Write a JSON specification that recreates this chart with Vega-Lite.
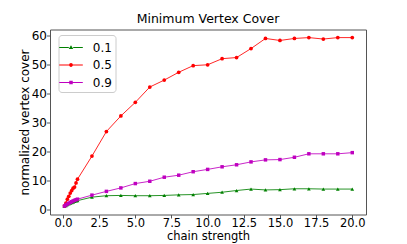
{
  "$schema": "https://vega.github.io/schema/vega-lite/v6.json",
  "autosize": "none",
  "width": 316,
  "height": 185,
  "padding": {"left": 50, "top": 29.5, "right": 41, "bottom": 29.5},
  "config": {
    "font": "DejaVu Sans",
    "view": {"stroke": "#555", "strokeWidth": 1},
    "axis": {"domain": false, "grid": false, "tickColor": "#555", "tickSize": 3.5, "labelFontSize": 12, "labelColor": "#000", "titleFontSize": 12, "titleFontWeight": "normal", "titleColor": "#000", "labelFont": "DejaVu Sans", "titleFont": "DejaVu Sans"},
    "title": {"fontSize": 12.5, "fontWeight": "normal", "font": "DejaVu Sans", "color": "#000"},
    "legend": {"title": null, "orient": "none", "legendX": 8.5, "legendY": 5.5, "symbolSize": 306, "labelFontSize": 12, "labelOffset": 12.8, "labelFont": "DejaVu Sans", "labelColor": "#000", "padding": 3.5, "rowPadding": 2.5, "strokeColor": "#ccc", "fillColor": "#ffffff", "cornerRadius": 3}
  },
  "title": {"text": "Minimum Vertex Cover", "offset": 4},
  "data": {"values": [
    {"s": "0.1", "x": 0.1, "y": 0.9}, {"s": "0.1", "x": 0.2, "y": 1.2}, {"s": "0.1", "x": 0.3, "y": 1.5}, {"s": "0.1", "x": 0.4, "y": 1.8}, {"s": "0.1", "x": 0.5, "y": 2.0}, {"s": "0.1", "x": 0.6, "y": 2.2}, {"s": "0.1", "x": 0.7, "y": 2.4}, {"s": "0.1", "x": 0.8, "y": 2.6}, {"s": "0.1", "x": 0.9, "y": 2.8}, {"s": "0.1", "x": 1.0, "y": 2.9},
    {"s": "0.1", "x": 2, "y": 4.1}, {"s": "0.1", "x": 3, "y": 4.6}, {"s": "0.1", "x": 4, "y": 4.7}, {"s": "0.1", "x": 5, "y": 4.6}, {"s": "0.1", "x": 6, "y": 4.6}, {"s": "0.1", "x": 7, "y": 4.7}, {"s": "0.1", "x": 8, "y": 4.9}, {"s": "0.1", "x": 9, "y": 5.0}, {"s": "0.1", "x": 10, "y": 5.4}, {"s": "0.1", "x": 11, "y": 5.8}, {"s": "0.1", "x": 12, "y": 6.4}, {"s": "0.1", "x": 13, "y": 6.9}, {"s": "0.1", "x": 14, "y": 6.6}, {"s": "0.1", "x": 15, "y": 6.7}, {"s": "0.1", "x": 16, "y": 7.0}, {"s": "0.1", "x": 17, "y": 7.0}, {"s": "0.1", "x": 18, "y": 6.9}, {"s": "0.1", "x": 19, "y": 6.9}, {"s": "0.1", "x": 20, "y": 6.9},
    {"s": "0.5", "x": 0.1, "y": 1.1}, {"s": "0.5", "x": 0.2, "y": 2.0}, {"s": "0.5", "x": 0.3, "y": 3.4}, {"s": "0.5", "x": 0.4, "y": 4.4}, {"s": "0.5", "x": 0.5, "y": 5.5}, {"s": "0.5", "x": 0.6, "y": 6.4}, {"s": "0.5", "x": 0.7, "y": 7.2}, {"s": "0.5", "x": 0.8, "y": 7.6}, {"s": "0.5", "x": 0.9, "y": 9.0}, {"s": "0.5", "x": 1.0, "y": 10.3},
    {"s": "0.5", "x": 2, "y": 18.3}, {"s": "0.5", "x": 3, "y": 26.8}, {"s": "0.5", "x": 4, "y": 32.2}, {"s": "0.5", "x": 5, "y": 36.9}, {"s": "0.5", "x": 6, "y": 42.2}, {"s": "0.5", "x": 7, "y": 44.6}, {"s": "0.5", "x": 8, "y": 47.3}, {"s": "0.5", "x": 9, "y": 49.6}, {"s": "0.5", "x": 10, "y": 49.9}, {"s": "0.5", "x": 11, "y": 52.0}, {"s": "0.5", "x": 12, "y": 52.4}, {"s": "0.5", "x": 13, "y": 55.5}, {"s": "0.5", "x": 14, "y": 59.0}, {"s": "0.5", "x": 15, "y": 58.3}, {"s": "0.5", "x": 16, "y": 59.0}, {"s": "0.5", "x": 17, "y": 59.3}, {"s": "0.5", "x": 18, "y": 58.8}, {"s": "0.5", "x": 19, "y": 59.3}, {"s": "0.5", "x": 20, "y": 59.3},
    {"s": "0.9", "x": 0.1, "y": 1.0}, {"s": "0.9", "x": 0.2, "y": 1.4}, {"s": "0.9", "x": 0.3, "y": 1.7}, {"s": "0.9", "x": 0.4, "y": 2.0}, {"s": "0.9", "x": 0.5, "y": 2.3}, {"s": "0.9", "x": 0.6, "y": 2.5}, {"s": "0.9", "x": 0.7, "y": 2.8}, {"s": "0.9", "x": 0.8, "y": 3.0}, {"s": "0.9", "x": 0.9, "y": 3.2}, {"s": "0.9", "x": 1.0, "y": 3.4},
    {"s": "0.9", "x": 2, "y": 4.8}, {"s": "0.9", "x": 3, "y": 6.1}, {"s": "0.9", "x": 4, "y": 7.3}, {"s": "0.9", "x": 5, "y": 8.8}, {"s": "0.9", "x": 6, "y": 9.6}, {"s": "0.9", "x": 7, "y": 11.0}, {"s": "0.9", "x": 8, "y": 11.7}, {"s": "0.9", "x": 9, "y": 12.9}, {"s": "0.9", "x": 10, "y": 13.7}, {"s": "0.9", "x": 11, "y": 14.6}, {"s": "0.9", "x": 12, "y": 15.3}, {"s": "0.9", "x": 13, "y": 16.3}, {"s": "0.9", "x": 14, "y": 17.0}, {"s": "0.9", "x": 15, "y": 17.1}, {"s": "0.9", "x": 16, "y": 17.9}, {"s": "0.9", "x": 17, "y": 19.1}, {"s": "0.9", "x": 18, "y": 19.1}, {"s": "0.9", "x": 19, "y": 19.1}, {"s": "0.9", "x": 20, "y": 19.5}
  ]},
  "encoding": {
    "x": {"field": "x", "type": "quantitative", "scale": {"domain": [-0.9, 20.95], "nice": false, "zero": false},
          "axis": {"values": [0, 2.5, 5, 7.5, 10, 12.5, 15, 17.5, 20], "format": ".1f", "title": "chain strength", "labelFontSize": 11.5, "titleFontSize": 11.5, "labelPadding": -0.5, "titlePadding": 1.5}},
    "y": {"field": "y", "type": "quantitative", "scale": {"domain": [-1.9, 62.1], "nice": false, "zero": false},
          "axis": {"values": [0, 10, 20, 30, 40, 50, 60], "title": "normalized vertex cover", "labelPadding": 0, "titlePadding": 0}},
    "color": {"field": "s", "type": "nominal",
              "scale": {"domain": ["0.1", "0.5", "0.9"], "range": ["#008000", "#ff0000", "#bf00bf"]},
              "legend": {"encoding": {"symbols": {
                "shape": {"condition": [
                  {"test": "datum.value === '0.1'", "value": "M-1.35,-0.07H-0.25V0.07H-1.35Z M0.25,-0.07H1.35V0.07H0.25Z M0,-0.26L0.26,0.18L-0.26,0.18Z"},
                  {"test": "datum.value === '0.5'", "value": "M-1.35,-0.07H-0.22V0.07H-1.35Z M0.22,-0.07H1.35V0.07H0.22Z M0.22,0A0.22,0.22 0 1,1 -0.22,0A0.22,0.22 0 1,1 0.22,0Z"}],
                  "value": "M-1.35,-0.07H-0.2V0.07H-1.35Z M0.2,-0.07H1.35V0.07H0.2Z M-0.2,-0.2H0.2V0.2H-0.2Z"},
                "fill": {"condition": [{"test": "datum.value === '0.1'", "value": "#008000"}, {"test": "datum.value === '0.5'", "value": "#ff0000"}], "value": "#bf00bf"},
                "fillOpacity": {"value": 1},
                "strokeWidth": {"value": 0},
                "opacity": {"value": 1}}}}}
  },
  "layer": [
    {"mark": {"type": "line", "strokeWidth": 1, "opacity": 0.85}},
    {"transform": [{"filter": "datum.s === '0.1'"}], "mark": {"type": "point", "shape": "triangle-up", "filled": true, "size": 14, "opacity": 1}},
    {"transform": [{"filter": "datum.s === '0.5'"}], "mark": {"type": "point", "shape": "circle", "filled": true, "size": 14, "opacity": 1}},
    {"transform": [{"filter": "datum.s === '0.9'"}], "mark": {"type": "point", "shape": "square", "filled": true, "size": 12, "opacity": 1}}
  ]
}
